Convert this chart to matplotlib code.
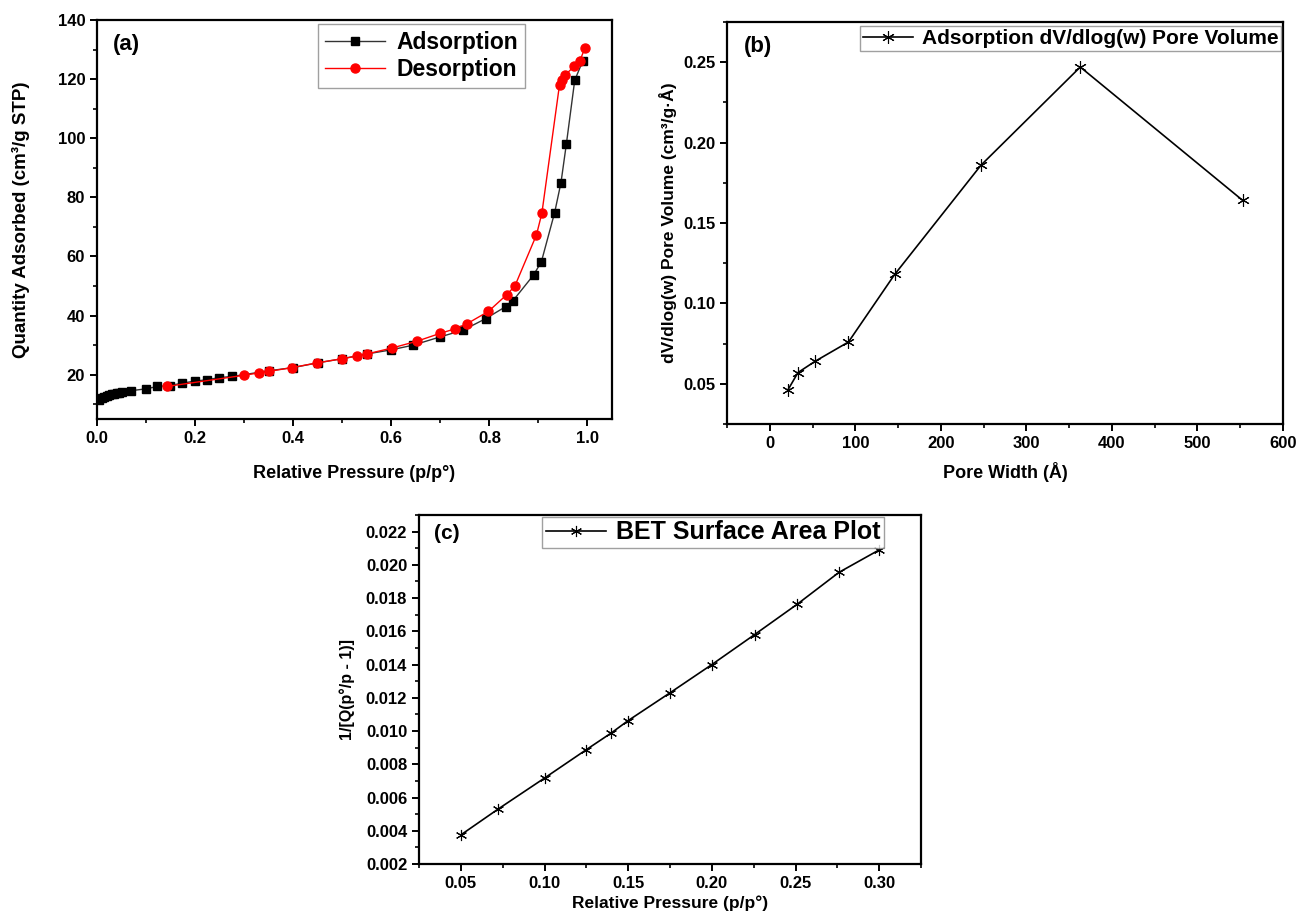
import matplotlib
matplotlib.use("Agg")
import matplotlib.pyplot as plt
from matplotlib.ticker import MultipleLocator

plt.rcParams['font.family'] = ['Liberation Sans Narrow', 'Liberation Sans', 'DejaVu Sans']
plt.rcParams['font.weight'] = 'bold'
plt.rcParams['axes.labelweight'] = 'bold'

# (a) isotherm
ads_p = [0.005, 0.01, 0.015, 0.02, 0.025, 0.03, 0.035, 0.04, 0.045, 0.05, 0.07, 0.10,
         0.123, 0.148, 0.173, 0.199, 0.225, 0.249, 0.276, 0.35, 0.40, 0.45, 0.50, 0.55,
         0.60, 0.645, 0.70, 0.747, 0.793, 0.833, 0.848, 0.89, 0.906, 0.933, 0.946,
         0.957, 0.974, 0.99]
ads_q = [11.5, 12.0, 12.4, 12.8, 13.1, 13.3, 13.5, 13.7, 13.9, 14.0, 14.6, 15.2,
         16.0, 16.3, 17.1, 17.8, 18.3, 19.0, 19.4, 21.3, 22.4, 24.0, 25.4, 27.0,
         28.4, 30.0, 32.8, 35.1, 39.0, 43.0, 45.0, 53.7, 58.2, 74.8, 85.0,
         98.1, 119.6, 126.0]
des_p = [0.995, 0.984, 0.973, 0.955, 0.948, 0.943, 0.907, 0.896, 0.852, 0.835, 0.798,
         0.754, 0.73, 0.70, 0.652, 0.601, 0.55, 0.53, 0.50, 0.449, 0.398, 0.35, 0.33,
         0.30, 0.142]
des_q = [130.6, 126.0, 124.3, 121.5, 119.8, 118.1, 74.6, 67.3, 50.0, 47.0, 41.4,
         37.2, 35.5, 34.0, 31.3, 29.0, 27.0, 26.3, 25.4, 24.0, 22.4, 21.1, 20.6,
         19.8, 16.0]

# (b) pore size distribution
pore_w = [21, 33, 53, 92, 146, 247, 363, 553]
pore_v = [0.046, 0.057, 0.064, 0.076, 0.118, 0.186, 0.247, 0.164]

# (c) BET plot
bet_p = [0.05, 0.0722, 0.10, 0.125, 0.14, 0.15, 0.175, 0.20, 0.2255, 0.251, 0.276, 0.30]
bet_y = [0.00375, 0.0053, 0.00717, 0.00888, 0.00989, 0.01063, 0.0123, 0.0140,
         0.0158, 0.01763, 0.01955, 0.0209]

W, H = 1299, 918
fig = plt.figure(figsize=(W / 100, H / 100), dpi=100)


def box(l, t, r, b):
    return [l / W, 1 - b / H, (r - l) / W, (b - t) / H]


def style(ax, size):
    for s in ax.spines.values():
        s.set_linewidth(1.6)
    ax.tick_params(which='major', direction='out', length=5, width=1.4, labelsize=size)
    ax.tick_params(which='minor', direction='out', length=3, width=1.2)
    for lab in ax.get_xticklabels() + ax.get_yticklabels():
        lab.set_fontweight('bold')


asterisk = (6, 2, 0)

ax1 = fig.add_axes(box(97, 20, 612, 419))
ax1.plot(ads_p, ads_q, color='#333333', lw=1.0, marker='s', ms=6,
         mfc='black', mec='black', label='Adsorption')
ax1.plot(des_p, des_q, color='red', lw=1.0, marker='o', ms=6.5,
         mfc='red', mec='red', label='Desorption')
ax1.set_xlim(0, 1.05)
ax1.set_ylim(5, 140)
ax1.xaxis.set_major_locator(MultipleLocator(0.2))
ax1.xaxis.set_minor_locator(MultipleLocator(0.1))
ax1.yaxis.set_major_locator(MultipleLocator(20))
ax1.yaxis.set_minor_locator(MultipleLocator(10))
ax1.set_xlabel('Relative Pressure (p/p°)', fontsize=13, labelpad=14)
ax1.set_ylabel('Quantity Adsorbed (cm³/g STP)', fontsize=13.5, labelpad=20)
ax1.text(0.03, 0.965, '(a)', transform=ax1.transAxes, fontsize=16, va='top')
ax1.legend(loc='upper left', bbox_to_anchor=(0.43, 0.99), fontsize=16.5, frameon=True,
           fancybox=False, edgecolor='#888888', handlelength=2.6, borderpad=0.3,
           labelspacing=0.2, handletextpad=0.5, borderaxespad=0)
style(ax1, 12)

ax2 = fig.add_axes(box(727, 22, 1283, 424))
ax2.plot(pore_w, pore_v, color='black', lw=1.2, marker=asterisk, ms=9, mew=0.8,
         label='Adsorption dV/dlog(w) Pore Volume')
ax2.set_xlim(-50, 600)
ax2.set_ylim(0.025, 0.275)
ax2.xaxis.set_major_locator(MultipleLocator(100))
ax2.xaxis.set_minor_locator(MultipleLocator(50))
ax2.yaxis.set_major_locator(MultipleLocator(0.05))
ax2.yaxis.set_minor_locator(MultipleLocator(0.025))
ax2.yaxis.set_major_formatter(plt.FormatStrFormatter('%.2f'))
ax2.set_xlabel('Pore Width (Å)', fontsize=13, labelpad=8)
ax2.set_ylabel('dV/dlog(w) Pore Volume (cm³/g·Å)', fontsize=12.5, labelpad=4)
ax2.text(0.03, 0.965, '(b)', transform=ax2.transAxes, fontsize=16, va='top')
ax2.legend(loc='upper right', bbox_to_anchor=(0.997, 0.99), fontsize=15, frameon=True,
           fancybox=False, edgecolor='#888888', handlelength=2.4, borderpad=0.15,
           handletextpad=0.4, borderaxespad=0)
style(ax2, 12)

ax3 = fig.add_axes(box(419, 515, 921, 864))
ax3.plot(bet_p, bet_y, color='black', lw=1.2, marker=asterisk, ms=8, mew=0.8,
         label='BET Surface Area Plot')
ax3.set_xlim(0.025, 0.325)
ax3.set_ylim(0.002, 0.023)
ax3.xaxis.set_major_locator(MultipleLocator(0.05))
ax3.xaxis.set_minor_locator(MultipleLocator(0.025))
ax3.yaxis.set_major_locator(MultipleLocator(0.002))
ax3.yaxis.set_minor_locator(MultipleLocator(0.001))
ax3.xaxis.set_major_formatter(plt.FormatStrFormatter('%.2f'))
ax3.yaxis.set_major_formatter(plt.FormatStrFormatter('%.3f'))
ax3.set_xlabel('Relative Pressure (p/p°)', fontsize=12.5, labelpad=3)
ax3.set_ylabel('1/[Q(p°/p - 1)]', fontsize=11.5, labelpad=8)
ax3.text(0.03, 0.975, '(c)', transform=ax3.transAxes, fontsize=15, va='top')
ax3.legend(loc='upper left', bbox_to_anchor=(0.246, 0.995), fontsize=18, frameon=True,
           fancybox=False, edgecolor='#888888', handlelength=2.4, borderpad=0.15,
           handletextpad=0.4, borderaxespad=0)
style(ax3, 12)

fig.savefig('out.png', dpi=100)
